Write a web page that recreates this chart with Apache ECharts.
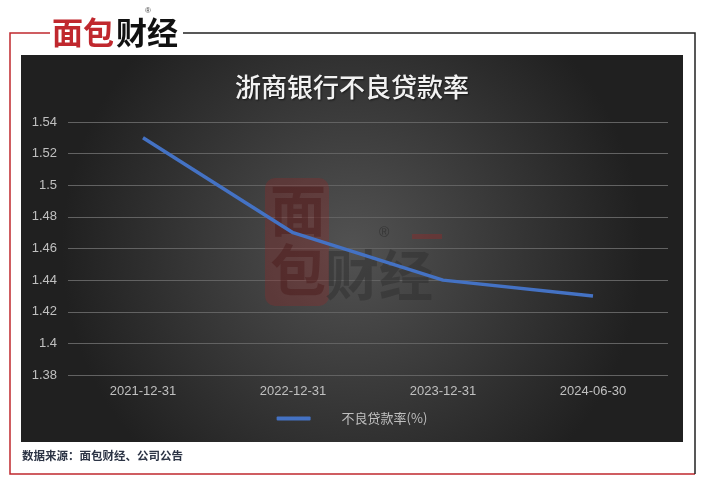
<!DOCTYPE html>
<html><head><meta charset="utf-8">
<script src="https://cdn.jsdelivr.net/npm/echarts@6/dist/echarts.min.js"></script>
<style>html,body{margin:0;padding:0;background:#fff}#c{width:704px;height:484px}</style>
</head><body><div id="c"></div>
<script>
var categories = ['2021-12-31','2022-12-31','2023-12-31','2024-06-30'];
var nplRatio = [1.53, 1.47, 1.44, 1.43];
var yTicks = [1.38, 1.40, 1.42, 1.44, 1.46, 1.48, 1.50, 1.52, 1.54];
var seriesName = '不良贷款率(%)';
var title = '浙商银行不良贷款率';
var source = '数据来源：面包财经、公司公告';

var chart = echarts.init(document.getElementById('c'), null, {renderer:'canvas'});
var font = 'Liberation Sans, Arial, sans-serif';
chart.setOption({
  backgroundColor: '#fff',
  animation: false,
  graphic: [
    {type:'rect', z:-10, silent:true, shape:{x:21,y:55,width:662,height:387},
     style:{fill:{type:'radial',x:0.5,y:0.5,r:0.75,colorStops:[{offset:0,color:'#525252'},{offset:1,color:'#202020'}]}}},
    {type:'polyline', z:-5, shape:{points:[[50,33],[10,33],[10,474],[695,474]]}, style:{stroke:'#c0282e',lineWidth:1.5,fill:null}},
    {type:'polyline', z:-5, shape:{points:[[183,33],[695,33],[695,474]]}, style:{stroke:'#222',lineWidth:1.5,fill:null}},
    {type:'text', left:52, top:17, style:{text:'面包', fill:'#c0282e', font:'bold 31px "Noto Sans CJK SC"'}},
    {type:'text', left:116, top:17, style:{text:'财经', fill:'#111', font:'bold 31px "Noto Sans CJK SC"'}},
    {type:'text', left:145, top:7, style:{text:'®', fill:'#444', font:'8px sans-serif'}},
    {type:'rect', z:1, silent:true, shape:{x:265,y:178,width:64,height:128,r:10}, style:{fill:'rgba(150,40,40,0.32)'}},
    {type:'text', z:1, silent:true, left:270, top:180, style:{text:'面\n包', fill:'rgba(70,20,20,0.4)', font:'bold 56px "Noto Sans CJK SC"', lineHeight:60}},
    {type:'text', z:1, silent:true, left:325, top:248, style:{text:'财经', fill:'rgba(50,50,50,0.55)', font:'bold 54px "Noto Sans CJK SC"'}},
    {type:'text', z:1, silent:true, left:379, top:226, style:{text:'®', fill:'rgba(40,40,40,0.6)', font:'14px sans-serif'}},
    {type:'rect', z:1, silent:true, shape:{x:412,y:234,width:30,height:5}, style:{fill:'rgba(150,40,40,0.4)'}},
    {type:'text', left:22, top:450, style:{text:source, fill:'#2c3445', font:'bold 11.5px "Noto Sans CJK SC"'}}
  ],
  title: {text:title, left:'center', top:69, textStyle:{color:'#f2f2f2', fontSize:26, fontWeight:500, fontFamily:'"Noto Sans CJK SC"',
    textShadowColor:'rgba(0,0,0,0.6)', textShadowBlur:2, textShadowOffsetX:1, textShadowOffsetY:1}},
  legend: {bottom:54, left:'center', itemWidth:34, itemHeight:4, itemGap:10,
    icon:'roundRect', textStyle:{color:'#bfbfbf', fontSize:13, fontFamily:'"Noto Sans CJK SC"', padding:[0,0,0,26]},
    data:[seriesName]},
  grid: {left:68, right:36, top:122, bottom:109},
  xAxis: {type:'category', data:categories, boundaryGap:true,
    axisLine:{show:false}, axisTick:{show:false},
    axisLabel:{color:'#c0c0c0', fontSize:13, fontFamily:font, margin:10}},
  yAxis: {type:'value', min:yTicks[0], max:yTicks[yTicks.length-1], interval:0.02,
    axisLine:{show:false}, axisTick:{show:false},
    axisLabel:{color:'#c0c0c0', fontSize:13, fontFamily:font, margin:11,
      formatter:function(v){return String(parseFloat(v.toFixed(2)));}},
    splitLine:{lineStyle:{color:'#626262', width:1}}},
  series: [{name:seriesName, type:'line', data:nplRatio, showSymbol:false, symbol:'none',
    lineStyle:{color:'#4472c4', width:3.5}, itemStyle:{color:'#4472c4'}, z:5}]
});
</script></body></html>
